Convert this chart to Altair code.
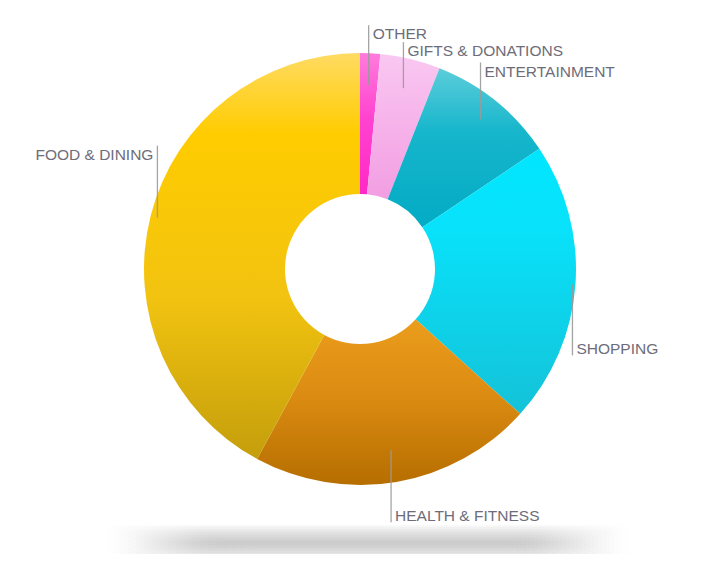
import math
import altair as alt
import pandas as pd

# ---- data ----
categories = ["OTHER", "GIFTS & DONATIONS", "ENTERTAINMENT", "SHOPPING",
              "HEALTH & FITNESS", "FOOD & DINING"]
values = [1.5, 4.5, 9.6, 21.1, 21.2, 42.1]   # percent share, clockwise from 12 o'clock
order = [0, 1, 2, 3, 4, 5]

# ---- styles ----
W, H = 704, 546
CX, CY = 352, 261
R_OUT, R_IN = 216, 75
TOTAL = sum(values)

gradients = {
    "OTHER": [("#ff7cdc", 0), ("#ff44d0", 0.45), ("#ff28c6", 1)],
    "GIFTS & DONATIONS": [("#f9c8f1", 0), ("#f6b2ea", 0.5), ("#f29ee2", 1)],
    "ENTERTAINMENT": [("#5ccdda", 0), ("#16b6cc", 0.4), ("#03abc4", 1)],
    "SHOPPING": [("#00e6ff", 0), ("#08e2fa", 0.3), ("#14c2d8", 1)],
    "HEALTH & FITNESS": [("#eb9d1c", 0), ("#dc8c12", 0.45), ("#b66e00", 1)],
    "FOOD & DINING": [("#ffdb62", 0), ("#ffcc00", 0.2), ("#f2c310", 0.6), ("#c49e0c", 1)],
}
# leader line: anchor radius, length, direction (-1 up / +1 down), text side
leader = {
    "OTHER": (184, 60, -1, "right"),
    "GIFTS & DONATIONS": (186, 46, -1, "right"),
    "ENTERTAINMENT": (192, 57, -1, "right"),
    "SHOPPING": (213, 71, 1, "right"),
    "HEALTH & FITNESS": (184, 72, 1, "right"),
    "FOOD & DINING": (209, 72, -1, "left"),
}

df = pd.DataFrame({
    "category": categories,
    "value": values,
    "order": order,
    "lr": [leader[c][0] for c in categories],
    "ll": [leader[c][1] for c in categories],
    "dir": [leader[c][2] for c in categories],
    "side": [leader[c][3] for c in categories],
})

base = alt.Chart(df).transform_stack(
    stack="value", groupby=[], as_=["v0", "v1"],
    sort=[alt.SortField(field="order", order="ascending")],
)

theta_scale = alt.Scale(domain=[0, TOTAL], range=[0, 2 * math.pi])

arcs = []
for c in categories:
    stops = [alt.GradientStop(color=col, offset=off) for col, off in gradients[c]]
    grad = alt.LinearGradient(gradient="linear", stops=stops, x1=0, x2=0, y1=0, y2=1)
    arcs.append(
        base.transform_filter(alt.datum.category == c)
        .mark_arc(outerRadius=R_OUT, innerRadius=R_IN, fill=grad, stroke=None)
        .encode(
            theta=alt.Theta("v0:Q", scale=theta_scale),
            theta2="v1:Q",
            x=alt.value(CX),
            y=alt.value(CY),
        )
    )

lab = base.transform_calculate(
    mid=f"PI * (datum.v0 + datum.v1) / {TOTAL}",
).transform_calculate(
    ax=f"{CX} + datum.lr * sin(datum.mid)",
    ay=f"{CY} - datum.lr * cos(datum.mid)",
).transform_calculate(
    ay2="datum.ay + datum.dir * datum.ll",
).transform_calculate(
    ty="datum.dir < 0 ? datum.ay2 + 14 : datum.ay2 - 1.5",
    txr="datum.ax + 4",
    txl="datum.ax - 4",
)

rules = lab.mark_rule(color="#9a9a9a", strokeWidth=1.3, opacity=0.9).encode(
    x=alt.X("ax:Q", scale=None, axis=None),
    y=alt.Y("ay:Q", scale=None, axis=None),
    y2="ay2:Q",
)

text_kw = dict(font="Liberation Sans", fontSize=15.5, color="#6d6d7a", baseline="alphabetic")
text_right = lab.transform_filter(alt.datum.side == "right").mark_text(align="left", **text_kw).encode(
    x=alt.X("txr:Q", scale=None, axis=None),
    y=alt.Y("ty:Q", scale=None, axis=None),
    text="category:N",
)
text_left = lab.transform_filter(alt.datum.side == "left").mark_text(align="right", **text_kw).encode(
    x=alt.X("txl:Q", scale=None, axis=None),
    y=alt.Y("ty:Q", scale=None, axis=None),
    text="category:N",
)

# soft floor shadow (decoration): many faint stacked rounded bands
dummy = alt.Chart(pd.DataFrame({"k": [0]}))
shadow_layers = []
SY = 535
for i, half in enumerate([18, 16, 14, 12, 10, 8, 6, 4, 2]):
    x0 = 92 + i * 6
    x1 = 628 - i * 6
    g = alt.LinearGradient(
        gradient="linear", x1=0, x2=1, y1=0, y2=0,
        stops=[alt.GradientStop(color="rgba(150,150,150,0)", offset=0),
               alt.GradientStop(color="rgba(150,150,150,0.07)", offset=0.18),
               alt.GradientStop(color="rgba(150,150,150,0.07)", offset=0.82),
               alt.GradientStop(color="rgba(150,150,150,0)", offset=1)],
    )
    shadow_layers.append(
        dummy.mark_rect(fill=g, cornerRadius=half).encode(
            x=alt.value(x0), x2=alt.value(x1),
            y=alt.value(SY - half), y2=alt.value(SY + half),
        )
    )

chart = alt.layer(*shadow_layers, *arcs, rules, text_right, text_left).properties(
    width=W, height=H, padding=0, autosize=alt.AutoSizeParams(type="none"),
    background="white",
).configure_view(stroke=None)

chart.save("out.html", embed_options={"renderer": "svg", "actions": False})
